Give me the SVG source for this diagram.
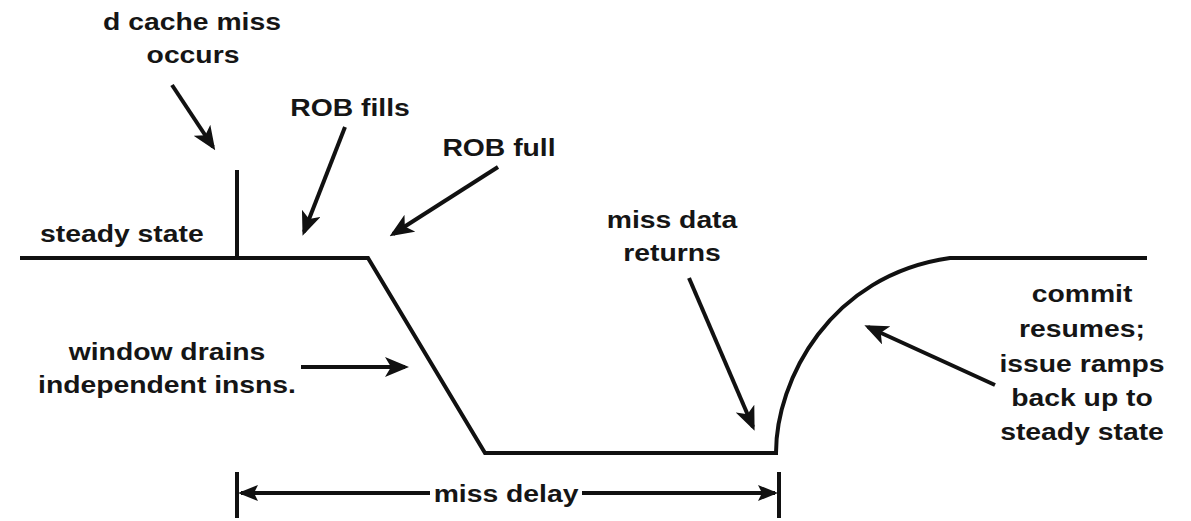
<svg xmlns="http://www.w3.org/2000/svg" width="1191" height="521" viewBox="0 0 1191 521">
<style>
  .lbl { font-family: "Liberation Sans", Arial, sans-serif; font-weight: bold; font-size: 24px; fill: #151515; }
  .mid { text-anchor: middle; }
  .curve { fill: none; stroke: #111; stroke-width: 4; stroke-linejoin: miter; }
  .arr { fill: none; stroke: #111; stroke-width: 4; marker-end: url(#ah); }
  .dim { fill: none; stroke: #111; stroke-width: 4; marker-end: url(#ahs); }
  .tick { stroke: #111; stroke-width: 4; }
</style>
<defs>
  <marker id="ah" viewBox="0 0 24 20" refX="20" refY="10" markerWidth="24" markerHeight="20" markerUnits="userSpaceOnUse" orient="auto">
    <path d="M0,0 L24,10 L0,20 L6,10 z" fill="#111"/>
  </marker>
  <marker id="ahs" viewBox="0 0 20 16" refX="17" refY="8" markerWidth="20" markerHeight="16" markerUnits="userSpaceOnUse" orient="auto">
    <path d="M0,0 L20,8 L0,16 L4,8 z" fill="#111"/>
  </marker>
</defs>
<rect width="1191" height="521" fill="#fff"/>

<g id="timeline">
  <path class="curve" d="M20,258 L368,258 L485,453 L776,453 C776,380 830,275 950,258 L1147,258"/>
  <line class="tick" x1="237" y1="170" x2="237" y2="258"/>
</g>

<g id="label-dcache">
  <text class="lbl mid" transform="translate(192,30) scale(1.18,1)">d cache miss</text>
  <text class="lbl mid" transform="translate(193,63) scale(1.18,1)">occurs</text>
</g>
<g id="label-steady">
  <text class="lbl" transform="translate(40,242) scale(1.18,1)">steady state</text>
</g>
<g id="label-robfills">
  <text class="lbl mid" transform="translate(350,116) scale(1.18,1)">ROB fills</text>
</g>
<g id="label-robfull">
  <text class="lbl mid" transform="translate(499,156) scale(1.18,1)">ROB full</text>
</g>
<g id="label-missdata">
  <text class="lbl mid" transform="translate(672,228) scale(1.18,1)">miss data</text>
  <text class="lbl mid" transform="translate(672,261) scale(1.18,1)">returns</text>
</g>
<g id="label-window">
  <text class="lbl mid" transform="translate(167,360) scale(1.18,1)">window drains</text>
  <text class="lbl mid" transform="translate(167,393) scale(1.18,1)">independent insns.</text>
</g>
<g id="label-commit">
  <text class="lbl mid" transform="translate(1082,302) scale(1.18,1)">commit</text>
  <text class="lbl mid" transform="translate(1082,337) scale(1.18,1)">resumes;</text>
  <text class="lbl mid" transform="translate(1082,372) scale(1.18,1)">issue ramps</text>
  <text class="lbl mid" transform="translate(1082,406) scale(1.18,1)">back up to</text>
  <text class="lbl mid" transform="translate(1082,440) scale(1.18,1)">steady state</text>
</g>
<g id="miss-delay">
  <line class="tick" x1="237" y1="472" x2="237" y2="518"/>
  <line class="tick" x1="779" y1="472" x2="779" y2="518"/>
  <text class="lbl mid" transform="translate(506,502) scale(1.18,1)">miss delay</text>
</g>

<g id="connectors">
  <line class="arr" x1="172" y1="85" x2="213" y2="147"/>
  <line class="arr" x1="345" y1="127" x2="304" y2="232"/>
  <line class="arr" x1="498" y1="167" x2="393" y2="234"/>
  <line class="arr" x1="689" y1="278" x2="753" y2="427"/>
  <line class="arr" x1="995" y1="385" x2="868" y2="327"/>
  <line class="arr" x1="301" y1="367" x2="405" y2="367"/>
  <line class="dim" x1="430" y1="493" x2="241" y2="493"/>
  <line class="dim" x1="582" y1="493" x2="775" y2="493"/>
</g>
</svg>
